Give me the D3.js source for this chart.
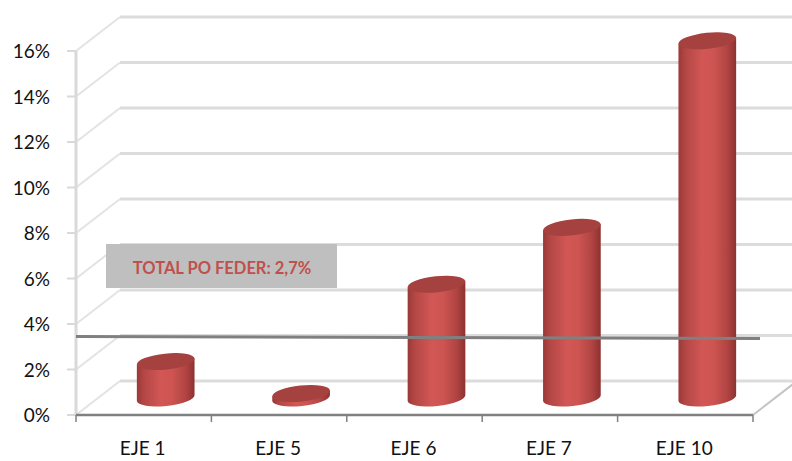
<!DOCTYPE html>
<html>
<head>
<meta charset="utf-8">
<script src="https://cdn.jsdelivr.net/npm/d3@7"></script>
<style>
  html, body { margin: 0; padding: 0; background: #fff; }
  svg { display: block; }
</style>
</head>
<body>
<svg id="chart" width="792" height="461"></svg>
<script>
const categories = ["EJE 1", "EJE 5", "EJE 6", "EJE 7", "EJE 10"];
const values = [1.6, 0.2, 5.0, 7.5, 15.7];
const yTicks = [0, 2, 4, 6, 8, 10, 12, 14, 16];
const totalValue = 2.7;
const totalLabel = "TOTAL PO FEDER: 2,7%";

const svg = d3.select("#chart");
const x0 = 76, x1 = 753;
const depthX = 44, depthY = -34;

const x = d3.scaleBand().domain(categories).range([x0, x1]).padding(0);
const y = d3.scaleLinear().domain([0, 16]).range([415, 51]);

const defs = svg.append("defs");
const grad = defs.append("linearGradient").attr("id", "cyl").attr("x1", 0).attr("x2", 1).attr("y1", 0).attr("y2", 0);
[[0, "#9a3836"], [0.12, "#b34745"], [0.42, "#d25755"], [0.62, "#cc5451"], [0.85, "#b04442"], [1, "#8c3231"]]
  .forEach(([o, c]) => grad.append("stop").attr("offset", o).attr("stop-color", c));

// Back wall gridlines + left wall diagonals
const grid = svg.append("g");
yTicks.forEach(t => {
  const yy = y(t);
  grid.append("line").attr("x1", x0).attr("y1", yy).attr("x2", x0 + depthX).attr("y2", yy + depthY)
    .attr("stroke", "#e3e3e3").attr("stroke-width", 2);
  grid.append("line").attr("x1", x0 + depthX).attr("y1", yy + depthY).attr("x2", x1 + depthX).attr("y2", yy + depthY)
    .attr("stroke", "#dcdcdc").attr("stroke-width", 3);
});
// right floor edge
svg.append("line").attr("x1", x1).attr("y1", y(0)).attr("x2", x1 + depthX).attr("y2", y(0) + depthY)
  .attr("stroke", "#c4c4c4").attr("stroke-width", 2);

// Front vertical axis (light)
svg.append("line").attr("x1", x0).attr("y1", y(16)).attr("x2", x0).attr("y2", y(0))
  .attr("stroke", "#d9d9d9").attr("stroke-width", 3);
yTicks.forEach(t => {
  svg.append("line").attr("x1", x0 - 9).attr("y1", y(t)).attr("x2", x0).attr("y2", y(t))
    .attr("stroke", "#d9d9d9").attr("stroke-width", 2);
});

// Y tick labels
svg.append("g").selectAll("text").data(yTicks).join("text")
  .attr("x", 50).attr("y", d => y(d) + 7)
  .attr("text-anchor", "end")
  .attr("font-family", "Lato, 'Open Sans', sans-serif")
  .attr("font-size", 19)
  .attr("fill", "#111")
  .text(d => d + "%");

// Floor front line (dark)
svg.append("line").attr("x1", x0).attr("y1", y(0)).attr("x2", x1).attr("y2", y(0))
  .attr("stroke", "#808080").attr("stroke-width", 2.5);
const bounds = categories.map(c => x(c)).concat([x1]);
bounds.forEach(b => {
  svg.append("line").attr("x1", b).attr("y1", y(0)).attr("x2", b).attr("y2", y(0) + 7)
    .attr("stroke", "#808080").attr("stroke-width", 1.5);
});

// Category labels
svg.append("g").selectAll("text").data(categories).join("text")
  .attr("x", d => x(d) + x.bandwidth() / 2 - 1)
  .attr("y", 455)
  .attr("text-anchor", "middle")
  .attr("font-family", "Lato, 'Open Sans', sans-serif")
  .attr("font-size", 19)
  .attr("fill", "#111")
  .text(d => d);

// Cylinders
const rx = 29, ry = 8, rot = -6;
const th = rot * Math.PI / 180;
const ex = rx * Math.cos(th), ey = rx * Math.sin(th);
const bars = svg.append("g");
categories.forEach((c, i) => {
  const cx = x(c) + x.bandwidth() / 2 + depthX / 2;
  const yb = y(0) + depthY / 2;
  const yt = y(values[i]) + depthY / 2;
  const path = `M${cx - ex},${yt - ey} L${cx - ex},${yb - ey} A${rx},${ry} ${rot} 0 0 ${cx + ex},${yb + ey} L${cx + ex},${yt + ey} Z`;
  bars.append("path").attr("d", path).attr("fill", "url(#cyl)");
  bars.append("ellipse").attr("cx", cx).attr("cy", yt).attr("rx", rx).attr("ry", ry)
    .attr("transform", `rotate(${rot},${cx},${yt})`)
    .attr("fill", "#a5413f");
});

// Total reference line
svg.append("line")
  .attr("x1", x0).attr("y1", y(totalValue) - 17)
  .attr("x2", x1 + 7).attr("y2", y(totalValue) - 15)
  .attr("stroke", "#808080").attr("stroke-width", 3);

// Label box
svg.append("rect").attr("x", 106).attr("y", 244).attr("width", 231).attr("height", 44).attr("fill", "#bfbfbf");
svg.append("text").attr("x", 222).attr("y", 274)
  .attr("text-anchor", "middle")
  .attr("font-family", "Lato, 'Open Sans', sans-serif")
  .attr("font-weight", "bold")
  .attr("font-size", 16.5)
  .attr("fill", "#c0504d")
  .text(totalLabel);
</script>
</body>
</html>
